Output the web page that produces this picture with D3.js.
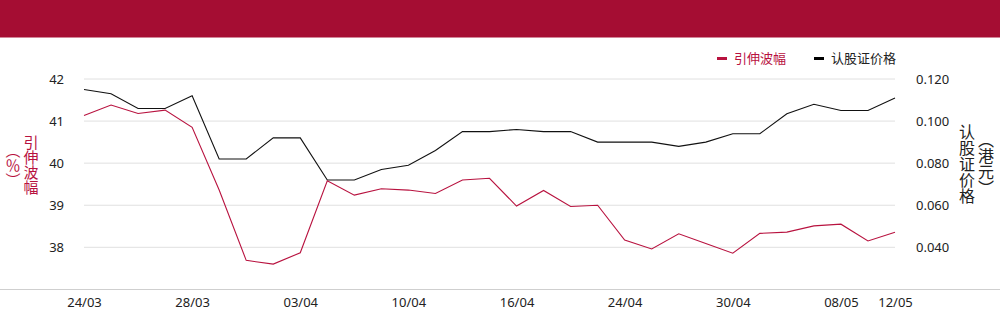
<!DOCTYPE html>
<html><head><meta charset="utf-8">
<script src="https://cdn.jsdelivr.net/npm/d3@7"></script>
<style>
body{margin:0;background:#fff;}
svg{display:block;font-family:"Noto Sans","Noto Sans CJK SC",sans-serif;}
.vt{writing-mode:vertical-rl;text-orientation:mixed;}
</style></head><body>
<svg id="c" width="1000" height="324"></svg>
<script>
const dates = ["24/03","25/03","26/03","27/03","28/03","31/03","01/04","02/04","03/04","07/04","08/04","09/04","10/04","11/04","14/04","15/04","16/04","17/04","22/04","23/04","24/04","25/04","28/04","29/04","30/04","02/05","06/05","07/05","08/05","09/05","12/05"];
const volatility = [41.13,41.38,41.18,41.26,40.85,39.36,37.69,37.60,37.87,39.58,39.24,39.39,39.36,39.28,39.60,39.64,38.98,39.35,38.97,39.00,38.17,37.96,38.32,38.09,37.86,38.33,38.36,38.51,38.55,38.15,38.36];
const price = [0.115,0.113,0.106,0.106,0.112,0.082,0.082,0.092,0.092,0.072,0.072,0.077,0.079,0.086,0.095,0.095,0.096,0.095,0.095,0.090,0.090,0.090,0.088,0.090,0.094,0.094,0.1035,0.108,0.105,0.105,0.111];
const xTickLabels = ["24/03","28/03","03/04","10/04","16/04","24/04","30/04","08/05","12/05"];
const leftTicks = [38,39,40,41,42];
const rightTicks = [0.040,0.060,0.080,0.100,0.120];
const seriesNames = ["引伸波幅","认股证价格"];
const leftTitle = ["引伸波幅","（％）"];
const rightTitle = ["认股证价格","（港元）"];

const RED = "#b8123f", BLACK = "#111";
const svg = d3.select("#c");
svg.append("rect").attr("x",0).attr("y",0).attr("width",1000).attr("height",37.5).attr("fill","#a50d33");

const x = d3.scalePoint().domain(dates).range([84,895]);
const yL = d3.scaleLinear().domain([38,42]).range([247.3,79]);
const yR = d3.scaleLinear().domain([0.040,0.120]).range([247.3,79]);

// gridlines
svg.append("g").selectAll("line").data(leftTicks).join("line")
  .attr("x1",84).attr("x2",895).attr("y1",d=>yL(d)).attr("y2",d=>yL(d))
  .attr("stroke","#e0e0e0").attr("stroke-width",1);
// baseline
svg.append("line").attr("x1",0).attr("x2",1000).attr("y1",289.5).attr("y2",289.5).attr("stroke","#cfcfcf");

// left axis
const gl = svg.append("g").attr("transform","translate(64,0)")
  .call(d3.axisLeft(yL).tickValues(leftTicks).tickSize(0).tickPadding(0).tickFormat(d3.format("d")));
gl.select(".domain").remove();
gl.selectAll("text").attr("font-size",13).attr("fill","#222").attr("font-family","'Noto Sans',sans-serif");

// right axis
const gr = svg.append("g").attr("transform","translate(916,0)")
  .call(d3.axisRight(yR).tickValues(rightTicks).tickSize(0).tickPadding(0).tickFormat(d3.format(".3f")));
gr.select(".domain").remove();
gr.selectAll("text").attr("font-size",13).attr("fill","#222").attr("font-family","'Noto Sans',sans-serif");

// x axis
const gx = svg.append("g").attr("transform","translate(0,295)")
  .call(d3.axisBottom(x).tickValues(xTickLabels).tickSize(0).tickPadding(0));
gx.select(".domain").remove();
gx.selectAll("text").attr("font-size",13).attr("fill","#222").attr("dy","0.9em").attr("font-family","'Noto Sans',sans-serif");

// lines
const lineL = d3.line().x((d,i)=>x(dates[i])).y(d=>yL(d));
const lineR = d3.line().x((d,i)=>x(dates[i])).y(d=>yR(d));
svg.append("path").datum(price).attr("d",lineR).attr("fill","none").attr("stroke",BLACK).attr("stroke-width",1.1);
svg.append("path").datum(volatility).attr("d",lineL).attr("fill","none").attr("stroke",RED).attr("stroke-width",1.1);

// legend
const leg = [{name:seriesNames[0],c:RED,tc:RED,x:717},{name:seriesNames[1],c:"#000",tc:"#222",x:814}];
leg.forEach(l=>{
  svg.append("rect").attr("x",l.x).attr("y",57).attr("width",10).attr("height",3).attr("fill",l.c);
  svg.append("text").attr("x",l.x+17).attr("y",58.5).attr("dy","0.35em").attr("font-size",13)
    .attr("fill",l.tc).attr("font-family","'Noto Sans CJK SC',sans-serif").text(l.name);
});

// vertical axis titles
function vtext(str, cx, cy, size, color){
  svg.append("text").attr("class","vt").attr("x",cx).attr("y",cy)
    .attr("text-anchor","middle").attr("font-size",size).attr("fill",color)
    .attr("font-family","'Noto Sans CJK SC',sans-serif").text(str);
}
vtext(leftTitle[0],31,165,15,RED);
vtext(leftTitle[1],13,165,15,RED);
vtext(rightTitle[0],967,164,16,"#222");
vtext(rightTitle[1],986,164,16,"#222");
</script>
</body></html>
